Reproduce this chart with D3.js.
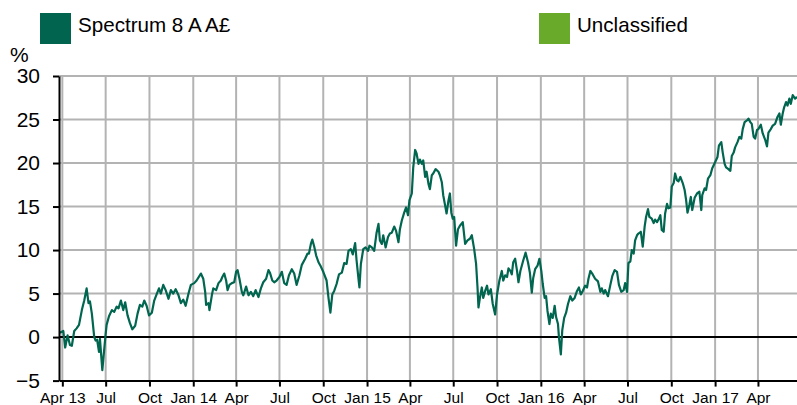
<!DOCTYPE html>
<html><head><meta charset="utf-8">
<script src="https://cdn.jsdelivr.net/npm/d3@7"></script>
<style>
body{margin:0;background:#fff}
svg{display:block}
text{font-family:"Liberation Sans",Arial,Helvetica,sans-serif;fill:#000}
</style>
</head><body><svg id="chart" width="797" height="405"></svg>
<script>
// ---------- data ----------
const legendLabels = ["Spectrum 8 A A£", "Unclassified"];
const legendColors = ["#00644f", "#6aaa2a"];
const yUnit = "%";
const yTicks = [-5, 0, 5, 10, 15, 20, 25, 30];
const xDomain = ["2013-03-25", "2017-06-22"];
const xTickDates = ["2013-04-01","2013-07-01","2013-10-01","2014-01-01","2014-04-01","2014-07-01","2014-10-01",
  "2015-01-01","2015-04-01","2015-07-01","2015-10-01","2016-01-01","2016-04-01","2016-07-01","2016-10-01",
  "2017-01-01","2017-04-01"];
const xTickLabels = ["Apr 13","Jul","Oct","Jan 14","Apr","Jul","Oct","Jan 15","Apr","Jul","Oct","Jan 16","Apr","Jul","Oct","Jan 17","Apr"];
const spectrumSeries = [
["2013-03-27",0.5],["2013-04-03",0.7],["2013-04-07",-1.2],["2013-04-12",0.2],["2013-04-17",-0.9],["2013-04-21",-1.0],
["2013-04-26",0.7],["2013-05-01",1.0],["2013-05-06",1.4],["2013-05-12",3.1],["2013-05-17",4.2],["2013-05-22",5.6],
["2013-05-26",3.9],["2013-05-29",4.1],["2013-06-02",2.7],["2013-06-07",0.0],["2013-06-10",-0.4],["2013-06-13",-0.3],
["2013-06-17",-1.7],["2013-06-19",-0.2],["2013-06-24",-3.8],["2013-06-30",-0.2],["2013-07-03",1.4],["2013-07-08",2.4],
["2013-07-14",3.1],["2013-07-19",2.9],["2013-07-24",3.5],["2013-07-28",3.3],["2013-08-02",4.2],["2013-08-07",3.1],
["2013-08-11",4.0],["2013-08-16",2.5],["2013-08-21",1.6],["2013-08-26",0.9],["2013-09-01",1.3],["2013-09-06",2.7],
["2013-09-11",3.7],["2013-09-16",3.5],["2013-09-20",4.2],["2013-09-25",3.6],["2013-09-30",2.5],["2013-10-06",2.8],
["2013-10-11",4.2],["2013-10-16",4.9],["2013-10-21",5.6],["2013-10-25",5.0],["2013-10-30",6.0],["2013-11-04",5.4],
["2013-11-10",4.4],["2013-11-15",5.4],["2013-11-20",5.0],["2013-11-25",5.5],["2013-12-01",4.8],["2013-12-06",3.9],
["2013-12-11",4.3],["2013-12-16",3.6],["2013-12-22",5.0],["2013-12-27",6.0],["2014-01-03",6.2],
["2014-01-08",6.5],["2014-01-17",7.3],["2014-01-22",6.7],["2014-01-26",5.2],["2014-01-28",3.7],["2014-02-02",3.9],
["2014-02-04",3.1],["2014-02-09",4.8],["2014-02-12",5.6],["2014-02-18",5.4],["2014-02-23",6.2],["2014-02-28",6.5],
["2014-03-03",6.9],["2014-03-07",7.3],["2014-03-11",6.5],["2014-03-14",5.4],["2014-03-18",6.0],["2014-03-23",6.2],
["2014-03-28",6.3],["2014-04-01",7.5],["2014-04-04",7.7],["2014-04-08",6.7],["2014-04-13",5.2],["2014-04-16",4.8],
["2014-04-22",5.8],["2014-04-27",4.8],["2014-05-02",5.2],["2014-05-07",4.7],["2014-05-12",5.4],["2014-05-18",4.6],
["2014-05-23",5.6],["2014-05-28",6.3],["2014-06-03",6.7],["2014-06-08",7.7],["2014-06-11",7.4],["2014-06-16",6.5],
["2014-06-20",6.3],["2014-06-25",6.5],["2014-07-01",6.9],["2014-07-06",7.5],["2014-07-11",6.2],["2014-07-16",6.0],
["2014-07-21",7.1],["2014-07-27",7.8],["2014-08-01",7.3],["2014-08-06",6.0],["2014-08-12",7.1],["2014-08-17",8.3],
["2014-08-24",9.0],["2014-08-29",9.6],["2014-09-01",9.6],["2014-09-05",10.7],["2014-09-08",11.2],["2014-09-12",10.4],
["2014-09-16",9.4],["2014-09-21",8.6],["2014-09-26",8.1],["2014-10-01",7.5],
["2014-10-08",6.5],["2014-10-12",4.5],["2014-10-16",2.8],["2014-10-20",4.9],["2014-10-24",5.3],["2014-10-29",6.1],
["2014-11-03",7.2],["2014-11-09",7.4],["2014-11-14",8.5],["2014-11-19",8.4],["2014-11-23",9.9],["2014-11-28",10.1],
["2014-12-02",9.5],["2014-12-07",10.8],["2014-12-10",8.8],["2014-12-14",6.7],["2014-12-16",5.7],["2014-12-19",8.4],
["2014-12-24",10.1],["2014-12-29",10.3],["2015-01-03",9.9],["2015-01-06",10.5],["2015-01-11",10.3],["2015-01-16",9.9],
["2015-01-21",12.0],["2015-01-25",13.0],["2015-01-28",11.1],["2015-02-01",10.7],["2015-02-04",11.7],["2015-02-09",10.3],
["2015-02-14",11.5],["2015-02-18",11.9],["2015-02-22",12.0],["2015-02-27",12.7],["2015-03-03",12.2],["2015-03-08",10.9],
["2015-03-11",12.4],["2015-03-15",13.4],["2015-03-20",14.3],["2015-03-24",14.9],["2015-03-28",14.0],["2015-03-31",15.7],
["2015-04-05",16.5],["2015-04-08",19.5],["2015-04-12",21.5],["2015-04-15",21.1],["2015-04-19",19.9],["2015-04-22",20.4],
["2015-04-26",19.9],["2015-04-29",20.3],["2015-05-03",18.4],["2015-05-06",19.0],["2015-05-10",17.6],["2015-05-13",17.0],
["2015-05-17",18.6],["2015-05-20",18.8],["2015-05-25",19.3],["2015-05-31",19.0],["2015-06-03",18.6],["2015-06-07",17.8],
["2015-06-10",16.3],["2015-06-14",15.1],["2015-06-17",14.2],["2015-06-21",15.7],["2015-06-24",16.5],["2015-06-27",14.3],
["2015-06-30",13.6],["2015-07-03",13.8],["2015-07-07",10.5],["2015-07-11",12.4],["2015-07-15",12.8],
["2015-07-21",13.2],["2015-07-26",10.7],["2015-07-31",11.1],["2015-08-05",11.3],["2015-08-09",11.7],["2015-08-14",10.1],
["2015-08-18",8.4],["2015-08-21",5.7],["2015-08-23",3.4],["2015-08-26",4.5],["2015-08-30",5.7],["2015-09-02",4.5],
["2015-09-06",5.3],["2015-09-10",5.9],["2015-09-13",4.9],["2015-09-18",5.5],["2015-09-22",3.8],["2015-09-27",2.6],
["2015-10-01",4.9],["2015-10-06",6.5],["2015-10-11",7.6],["2015-10-14",6.5],["2015-10-18",7.1],["2015-10-22",6.9],
["2015-10-25",7.9],["2015-10-29",7.6],["2015-11-01",7.2],["2015-11-04",8.6],["2015-11-08",9.0],["2015-11-12",7.6],
["2015-11-15",6.3],["2015-11-19",7.6],["2015-11-22",8.2],["2015-11-25",8.8],["2015-11-30",9.7],["2015-12-05",8.6],
["2015-12-09",7.4],["2015-12-13",5.1],["2015-12-16",6.8],["2015-12-20",7.8],["2015-12-25",8.2],["2015-12-29",9.0],
["2016-01-02",7.6],["2016-01-05",6.1],["2016-01-09",4.5],["2016-01-12",4.7],["2016-01-15",3.0],["2016-01-19",1.5],
["2016-01-22",2.7],["2016-01-26",2.2],["2016-01-30",3.6],["2016-02-02",2.3],["2016-02-06",1.5],["2016-02-08",0.0],
["2016-02-12",-2.0],["2016-02-15",0.8],["2016-02-19",2.2],["2016-02-23",2.8],["2016-02-27",3.8],["2016-03-03",4.7],
["2016-03-07",4.2],["2016-03-12",4.5],["2016-03-17",5.3],["2016-03-21",5.7],["2016-03-25",4.9],["2016-03-29",5.3],
["2016-04-03",5.9],["2016-04-07",5.7],["2016-04-10",6.7],["2016-04-14",7.6],["2016-04-19",7.2],["2016-04-24",6.7],
["2016-04-30",6.4],["2016-05-05",5.2],["2016-05-08",5.6],["2016-05-12",5.0],["2016-05-15",5.4],["2016-05-21",4.7],
["2016-05-26",6.0],["2016-05-30",7.0],["2016-06-04",7.7],["2016-06-09",7.5],["2016-06-13",6.0],["2016-06-18",5.2],
["2016-06-23",5.4],["2016-06-26",6.2],["2016-06-30",5.2],["2016-07-03",8.5],["2016-07-07",8.7],["2016-07-10",10.0],
["2016-07-14",9.6],["2016-07-17",11.1],["2016-07-21",11.7],["2016-07-24",11.9],["2016-07-29",12.1],["2016-08-02",10.4],
["2016-08-06",12.7],["2016-08-09",13.8],["2016-08-13",14.7],["2016-08-16",13.8],["2016-08-21",13.6],["2016-08-25",13.1],
["2016-08-28",13.5],["2016-09-01",13.2],["2016-09-04",13.5],["2016-09-08",14.0],["2016-09-11",12.3],["2016-09-15",12.1],
["2016-09-18",14.2],["2016-09-22",15.3],["2016-09-25",14.8],["2016-09-29",14.9],["2016-10-02",17.3],["2016-10-06",17.7],
["2016-10-09",18.8],["2016-10-13",18.0],["2016-10-16",17.9],["2016-10-20",18.4],["2016-10-25",17.7],["2016-10-29",16.9],
["2016-11-01",15.8],["2016-11-04",14.3],["2016-11-08",15.2],["2016-11-11",16.1],["2016-11-14",14.6],["2016-11-19",16.0],
["2016-11-24",16.5],["2016-11-29",16.7],["2016-12-03",14.6],["2016-12-05",16.3],["2016-12-10",17.1],["2016-12-13",16.9],
["2016-12-17",18.2],["2016-12-22",18.6],["2016-12-26",19.4],
["2017-01-01",20.1],["2017-01-06",20.7],["2017-01-09",22.0],["2017-01-14",22.4],["2017-01-17",21.2],["2017-01-21",19.9],
["2017-01-24",19.5],["2017-01-29",19.3],["2017-02-02",19.1],["2017-02-05",20.8],["2017-02-09",21.2],["2017-02-12",21.8],
["2017-02-17",22.4],["2017-02-21",23.0],["2017-02-25",22.8],["2017-02-28",23.9],["2017-03-04",24.7],["2017-03-09",24.9],
["2017-03-12",25.1],["2017-03-16",24.7],["2017-03-19",24.5],["2017-03-23",23.0],["2017-03-26",22.8],["2017-03-30",23.8],
["2017-04-02",23.9],["2017-04-07",24.4],["2017-04-11",23.4],["2017-04-16",22.7],["2017-04-20",21.9],["2017-04-23",23.5],
["2017-04-28",23.9],["2017-05-02",24.3],["2017-05-07",24.5],["2017-05-12",25.3],["2017-05-16",25.7],["2017-05-19",24.4],
["2017-05-23",25.7],["2017-05-26",26.4],["2017-05-30",27.0],["2017-06-02",26.6],["2017-06-06",27.4],["2017-06-09",26.8],
["2017-06-13",27.8],["2017-06-18",27.4],["2017-06-22",27.6]
];

// ---------- chart ----------
const parse = d3.utcParse("%Y-%m-%d");
const svg = d3.select("#chart");
const plotL = 59, plotR = 797, plotT = 76, plotB = 380.6;
const gridColor = "#b3b3b3";
const lineColor = "#00664f";
const fontSize = 21;

const x = d3.scaleUtc().domain(xDomain.map(parse)).range([plotL, plotR]);
const y = d3.scaleLinear().domain([d3.min(yTicks), d3.max(yTicks)]).range([plotB, plotT]);

// grid
const grid = svg.append("g");
grid.selectAll("line.h").data(yTicks.filter(t => t !== 0 && t !== d3.min(yTicks))).join("line")
  .attr("class", "h")
  .attr("x1", plotL).attr("x2", plotR).attr("y1", d => y(d)).attr("y2", d => y(d))
  .attr("stroke", gridColor).attr("stroke-width", 2);
grid.selectAll("line.v").data(xTickDates.map(parse)).join("line")
  .attr("class", "v")
  .attr("x1", d => x(d)).attr("x2", d => x(d)).attr("y1", plotT).attr("y2", plotB)
  .attr("stroke", gridColor).attr("stroke-width", 2);

// zero line
svg.append("line").attr("x1", plotL).attr("x2", plotR).attr("y1", y(0)).attr("y2", y(0))
  .attr("stroke", "#000").attr("stroke-width", 2);

// series line
const line = d3.line().x(d => x(parse(d[0]))).y(d => y(d[1]));
svg.append("path").datum(spectrumSeries).attr("d", line)
  .attr("fill", "none").attr("stroke", lineColor).attr("stroke-width", 2.2)
  .attr("stroke-linejoin", "round");

// y axis
const yAxis = svg.append("g").attr("transform", `translate(${plotL},0)`)
  .call(d3.axisLeft(y).tickValues(yTicks).tickSize(6).tickSizeOuter(0).tickPadding(13).tickFormat(d3.format("d")));
yAxis.select(".domain").attr("stroke", "#000").attr("stroke-width", 2);
yAxis.selectAll(".tick line").attr("stroke", "#000").attr("stroke-width", 2);
yAxis.selectAll(".tick text").attr("font-size", fontSize).attr("font-family", "Liberation Sans, Arial, sans-serif").attr("fill", "#000");

// x axis
const xAxis = svg.append("g").attr("transform", `translate(0,${plotB})`)
  .call(d3.axisBottom(x).tickValues(xTickDates.map(parse)).tickSize(6).tickSizeOuter(0).tickPadding(5.5)
    .tickFormat((d, i) => xTickLabels[i]));
xAxis.select(".domain").attr("stroke", "#000").attr("stroke-width", 2);
xAxis.selectAll(".tick line").attr("stroke", "#000").attr("stroke-width", 2);
xAxis.selectAll(".tick text").attr("font-size", 15.5).attr("font-family", "Liberation Sans, Arial, sans-serif").attr("fill", "#000");

// unit label
svg.append("text").attr("x", 10).attr("y", 62).attr("font-size", fontSize).text(yUnit);

// legend
const legendX = [40, 539];
const lg = svg.selectAll("g.legend").data(legendLabels).join("g")
  .attr("class", "legend")
  .attr("transform", (d, i) => `translate(${legendX[i]},13)`);
lg.append("rect").attr("width", 31).attr("height", 31).attr("fill", (d, i) => legendColors[i]);
lg.append("text").attr("x", 38).attr("y", 18.5).attr("font-size", 20.6).text(d => d);
</script>
</body></html>
